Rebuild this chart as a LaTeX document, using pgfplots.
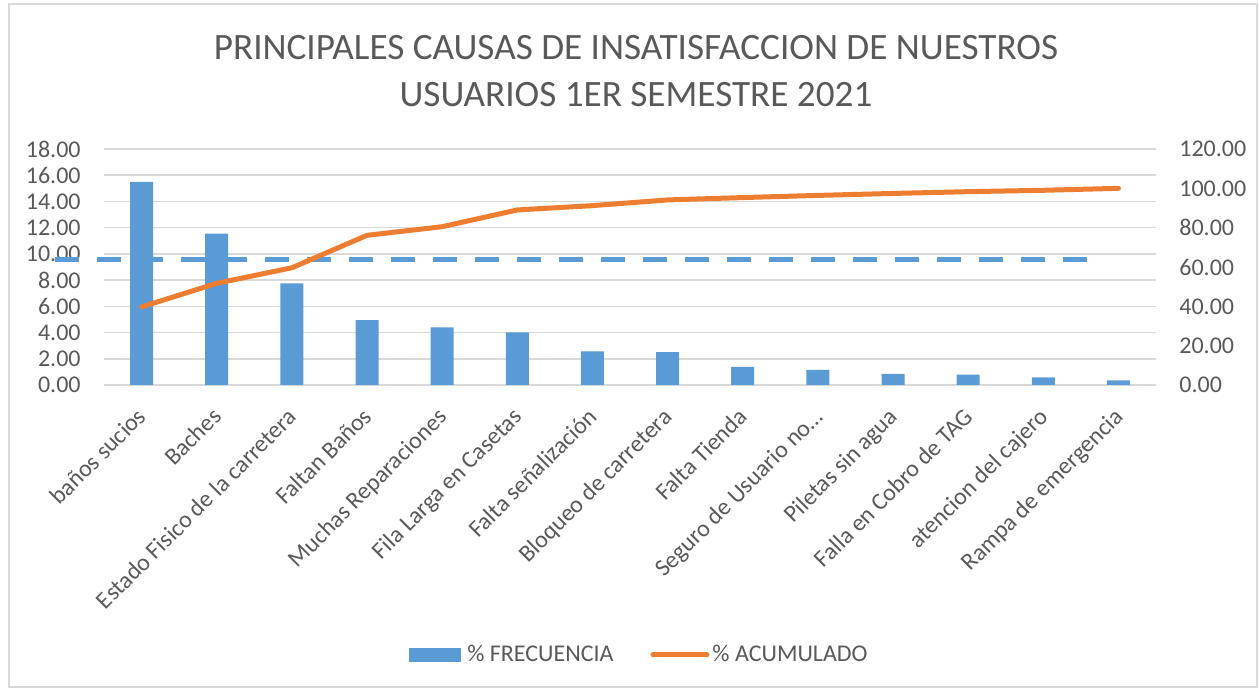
\documentclass[border=0pt]{standalone}
\usepackage{fontspec}
\setmainfont{Carlito}
\usepackage{pgfplots}
\usepackage{pgfplotstable}
\pgfplotsset{compat=1.18}
\definecolor{barblue}{HTML}{5B9BD5}
\definecolor{lineorange}{HTML}{ED7D31}
\definecolor{txtgray}{HTML}{595959}
\definecolor{gridgray}{HTML}{D9D9D9}

\pgfplotstableread{
x freq acum
0 15.50 39.7
1 11.55 51.7
2 7.76 59.6
3 4.94 76.1
4 4.40 80.5
5 4.02 89.0
6 2.57 91.2
7 2.50 94.1
8 1.38 95.3
9 1.15 96.4
10 0.84 97.4
11 0.79 98.3
12 0.59 99.0
13 0.36 100.0
}\datatable

\begin{document}
\begin{tikzpicture}
\path[use as bounding box] (0,0) rectangle (629.5pt,344.5pt);
\draw[gridgray, line width=0.9pt] (4.5pt,1pt) rectangle (628.5pt,342.3pt);
\node[txtgray, font=\fontsize{18.6}{22}\selectfont, anchor=base, inner sep=0pt] at (318pt,314.5pt) {PRINCIPALES CAUSAS DE INSATISFACCION DE NUESTROS};
\node[txtgray, font=\fontsize{18.6}{22}\selectfont, anchor=base, inner sep=0pt] at (318pt,291pt) {USUARIOS 1ER SEMESTRE 2021};

\begin{axis}[
  at={(52pt,152pt)}, anchor=south west,
  scale only axis, width=526pt, height=118pt,
  xmin=-0.5, xmax=13.5, ymin=0, ymax=18,
  ytick={0,2,...,18},
  xtick={0,...,13},
  xticklabels={baños sucios, Baches, Estado Fisico de la carretera, Faltan Baños, Muchas Reparaciones, Fila Larga en Casetas, Falta señalización, Bloqueo de carretera, Falta Tienda, Seguro de Usuario no…, Piletas sin agua, Falla en Cobro de TAG, atencion del cajero, Rampa de emergencia},
  axis line style={draw=none},
  major tick length=0pt,
  ymajorgrids, grid style={gridgray, line width=0.8pt},
  clip=false,
  /pgf/number format/assume math mode=true,
  /pgf/number format/fixed,
  /pgf/number format/fixed zerofill,
  /pgf/number format/precision=2,
  ticklabel style={font=\fontsize{12}{14}\selectfont, text=txtgray},
  yticklabel style={inner sep=0pt, xshift=-11.5pt},
  xticklabel style={xshift=-2.9pt, yshift=-10.5pt, rotate=45, anchor=north east, inner sep=0pt},
]
\addplot[ybar, bar width=11.5pt, fill=barblue, draw=none] table[x=x, y=freq] {\datatable};
\addplot[barblue, line width=2.5pt, dash pattern=on 11.75pt off 9.25pt] coordinates {(-1.15,9.6) (12.6,9.6)};
\end{axis}

\begin{axis}[
  at={(52pt,152pt)}, anchor=south west,
  scale only axis, width=526pt, height=118pt,
  xmin=-0.5, xmax=13.5, ymin=0, ymax=120,
  ytick={0,20,...,120},
  xtick=\empty,
  axis y line*=right, axis x line=none,
  axis line style={draw=none},
  major tick length=0pt,
  /pgf/number format/assume math mode=true,
  /pgf/number format/fixed,
  /pgf/number format/fixed zerofill,
  /pgf/number format/precision=2,
  ticklabel style={font=\fontsize{12}{14}\selectfont, text=txtgray},
  yticklabel style={inner sep=0pt, xshift=11.5pt},
  legend columns=2,
  legend style={at={(0.5095,-1.144)}, anchor=center, draw=none, fill=none,
    font=\fontsize{12}{14}\selectfont, text=txtgray,
    /tikz/every even column/.append style={column sep=17pt},
    nodes={inner sep=1.5pt}},
]
\addlegendimage{legend image code/.code={\fill[barblue] (0pt,-3.25pt) rectangle (25.5pt,3.25pt);}}
\addlegendentry{\hspace{1.5pt}\% FRECUENCIA}
\addplot[lineorange, line width=2.5pt, line cap=round, line join=round,
  legend image code/.code={\draw[lineorange, line width=2.5pt, line cap=round] (0pt,0pt) -- (27pt,0pt);}]
  table[x=x, y=acum] {\datatable};
\addlegendentry{\% ACUMULADO}
\end{axis}
\end{tikzpicture}
\end{document}
